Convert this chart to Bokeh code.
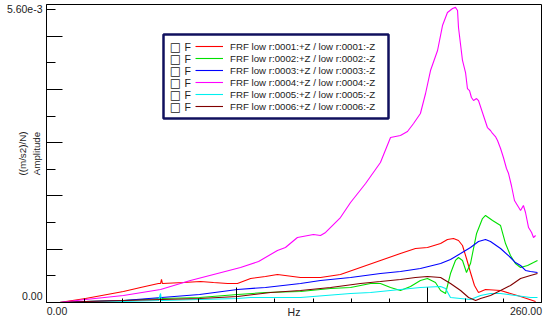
from bokeh.plotting import figure
from bokeh.models import (Range1d, FixedTicker, Legend, LegendItem, Label, BoxAnnotation,
                          LinearAxis, CustomLabelingPolicy)
from bokeh.embed import file_html
from bokeh.resources import INLINE

# ---------------- data (Hz, amplitude in 1e-3 (m/s2)/N) ----------------
labels = [
    "FRF low r:0001:+Z / low r:0001:-Z",
    "FRF low r:0002:+Z / low r:0002:-Z",
    "FRF low r:0003:+Z / low r:0003:-Z",
    "FRF low r:0004:+Z / low r:0004:-Z",
    "FRF low r:0005:+Z / low r:0005:-Z",
    "FRF low r:0006:+Z / low r:0006:-Z",
]
colors = ["#ff0000", "#00e000", "#0000ff", "#ff00ff", "#00f0f0", "#800000"]

hz_1 = [6.8, 20.5, 40.4, 49.4, 58.8, 59.9, 60.4, 60.9, 72.0, 80.9, 87.7, 95.1, 100.3, 107.2, 115.0,
        121.3, 133.4, 143.9, 154.4, 164.9, 175.4, 185.9, 193.8, 200.1, 207.0, 210.6, 213.8, 216.4,
        218.5, 220.6, 222.7, 224.8, 226.9, 230.6, 238.5, 249.0, 256.9]
amp_1 = [0, 0.076, 0.210, 0.287, 0.363, 0.363, 0.440, 0.363, 0.382, 0.401, 0.382, 0.363, 0.363,
         0.459, 0.497, 0.535, 0.478, 0.478, 0.535, 0.669, 0.803, 0.936, 1.032, 1.051, 1.127, 1.204,
         1.223, 1.185, 1.089, 0.841, 0.573, 0.325, 0.191, 0.248, 0.229, 0.115, 0.019]

hz_2 = [6.8, 20.5, 40.4, 60.4, 80.4, 100.3, 115.0, 133.4, 149.2, 159.7, 170.2, 175.4, 180.7, 185.9,
        191.2, 196.4, 200.1, 204.3, 207.0, 209.6, 212.2, 214.8, 216.4, 218.5, 220.6, 222.7, 225.9,
        229.0, 230.6, 234.3, 238.5, 241.1, 243.7, 246.3, 249.0, 252.7, 255.8, 257.9]
amp_2 = [0, 0.019, 0.038, 0.076, 0.096, 0.153, 0.191, 0.210, 0.268, 0.287, 0.363, 0.363, 0.287,
         0.229, 0.306, 0.420, 0.459, 0.382, 0.229, 0.172, 0.554, 0.803, 0.860, 0.803, 0.573, 0.745,
         1.319, 1.605, 1.663, 1.567, 1.471, 1.127, 0.898, 0.745, 0.669, 0.707, 0.764, 0.803]

hz_3 = [6.8, 20.5, 40.4, 60.4, 80.4, 100.3, 115.0, 133.4, 143.9, 159.7, 175.4, 185.9, 196.4, 207.0,
        212.2, 217.5, 222.7, 226.9, 230.6, 233.2, 238.5, 243.7, 246.3, 249.0, 251.6, 254.2, 257.9]
amp_3 = [0, 0.019, 0.038, 0.096, 0.153, 0.248, 0.287, 0.363, 0.420, 0.478, 0.554, 0.592, 0.650,
         0.745, 0.822, 0.936, 1.051, 1.166, 1.204, 1.166, 1.032, 0.860, 0.764, 0.707, 0.612, 0.592,
         0.573]

hz_4 = [6.8, 20.5, 40.4, 59.9, 75.6, 89.8, 101.9, 111.4, 121.3, 125.5, 131.8, 140.2, 143.9, 146.6,
        154.4, 159.7, 167.6, 175.4, 180.7, 185.9, 189.6, 192.8, 196.4, 199.1, 201.7, 205.4, 208.0,
        210.6, 213.3, 214.8, 215.9, 216.4, 218.5, 220.1, 221.1, 222.2, 223.2, 224.3, 225.9, 226.9,
        229.5, 231.6, 233.2, 234.3, 235.8, 236.9, 238.5, 240.0, 241.6, 242.7, 244.2, 245.8, 247.4,
        249.0, 250.5, 251.6, 253.2, 254.8, 255.8, 256.9]
amp_4 = [0, 0.057, 0.134, 0.248, 0.420, 0.554, 0.669, 0.784, 0.994, 1.051, 1.242, 1.299, 1.280,
         1.338, 1.624, 1.911, 2.274, 2.675, 3.153, 3.191, 3.268, 3.421, 3.612, 3.994, 4.433, 4.816,
         5.293, 5.542, 5.618, 5.640, 5.580, 5.255, 4.625, 4.395, 4.089, 4.051, 3.918, 3.860, 3.898,
         3.860, 3.574, 3.344, 3.287, 3.230, 3.172, 3.096, 2.943, 2.771, 2.561, 2.465, 2.236, 1.949,
         1.854, 1.758, 1.854, 1.720, 1.433, 1.338, 1.242, 1.280]

hz_5 = [6.8, 20.5, 40.4, 58.8, 59.9, 60.4, 80.4, 100.3, 107.2, 133.4, 146.6, 159.7, 170.2, 185.9,
        196.4, 207.0, 209.6, 212.2, 217.5, 222.7, 228.0, 233.2, 238.5, 246.3, 254.2, 257.9]
amp_5 = [0, 0, 0.019, 0.038, 0.172, 0.038, 0.057, 0.076, 0.096, 0.096, 0.134, 0.172, 0.191, 0.248,
         0.287, 0.306, 0.268, 0.096, 0.076, 0.057, 0.134, 0.172, 0.172, 0.134, 0.096, 0.096]

hz_6 = [6.8, 20.5, 40.4, 60.4, 80.4, 100.3, 117.7, 133.4, 149.2, 164.9, 175.4, 185.9, 193.8, 200.1,
        207.0, 212.2, 217.5, 221.7, 225.4, 228.0, 233.2, 238.5, 243.7, 249.0, 254.2, 257.9]
amp_6 = [0, 0.019, 0.038, 0.057, 0.076, 0.115, 0.191, 0.229, 0.287, 0.363, 0.401, 0.440, 0.478,
         0.497, 0.478, 0.363, 0.229, 0.096, 0.038, 0.076, 0.134, 0.229, 0.325, 0.459, 0.516, 0.554]

x_tick_labels = ["0.00", "260.00"]
y_tick_labels = ["0.00", "5.60e-3"]
x_title = "Hz"
y_title = "((m/s2)/N)\nAmplitude"

X_MAX = 260.0
Y_LABEL_TOP = 5.6e-3
Y_MAX = 5.695e-3

series = [(hz_1, amp_1), (hz_2, amp_2), (hz_3, amp_3), (hz_4, amp_4), (hz_5, amp_5), (hz_6, amp_6)]

# ---------------- figure ----------------
FONT = "Liberation Sans"
TXT = "#222222"
FRAME_W, FRAME_H = 495, 298

p = figure(width=554, height=322, output_backend="svg", toolbar_location=None,
           x_range=Range1d(0, X_MAX), y_range=Range1d(0, Y_MAX),
           min_border_left=46, min_border_right=13, min_border_top=4, min_border_bottom=20)
p.grid.visible = False
p.outline_line_color = "black"
p.outline_line_width = 1
p.background_fill_color = "white"
p.border_fill_color = "white"

no_labels = CustomLabelingPolicy(code="")


def tick_axis(ax, major, minor, major_len, minor_len):
    ax.ticker = FixedTicker(ticks=major, minor_ticks=minor)
    ax.major_tick_in = major_len
    ax.major_tick_out = 0
    ax.minor_tick_in = minor_len
    ax.minor_tick_out = 0
    ax.major_label_text_font_size = "0px"
    ax.major_label_standoff = 0
    ax.major_label_policy = no_labels
    ax.axis_line_color = "black"
    ax.major_tick_line_color = "black"
    ax.minor_tick_line_color = "black"


# tick-only axes next to the frame
tick_axis(p.xaxis[0], [0, 100, 200], [v for v in range(20, 261, 20) if v not in (100, 200)], 15, 4)
step = Y_LABEL_TOP / 11
tick_axis(p.yaxis[0], [k * step for k in range(0, 12, 2)], [k * step for k in range(1, 12, 2)], 16, 9)


def label_axis(ticks, texts, standoff):
    ax = LinearAxis(ticker=FixedTicker(ticks=ticks, minor_ticks=[]),
                    major_label_overrides={t: s for t, s in zip(ticks, texts)})
    ax.axis_line_color = None
    ax.major_tick_line_color = None
    ax.minor_tick_line_color = None
    ax.major_tick_in = 0
    ax.major_tick_out = 0
    ax.major_label_standoff = standoff
    ax.major_label_text_font = FONT
    ax.major_label_text_font_size = "10.5px"
    ax.major_label_text_color = TXT
    ax.axis_label_text_font = FONT
    ax.axis_label_text_font_style = "normal"
    ax.axis_label_text_color = TXT
    return ax


# x labels: "0.00" starts at the axis origin, "260.00" ends at the axis end
x_lab_ticks = [X_MAX * 10.5 / FRAME_W, X_MAX * (FRAME_W - 15.5) / FRAME_W]
xl = label_axis(x_lab_ticks, x_tick_labels, 4)
xl.axis_label = x_title
xl.axis_label_text_font_size = "10.5px"
xl.axis_label_standoff = -12
p.add_layout(xl, "below")

# y labels: "0.00" sits slightly above the origin
y_lab_ticks = [Y_MAX * 7 / FRAME_H, Y_LABEL_TOP]
yl = label_axis(y_lab_ticks, y_tick_labels, 4)
yl.axis_label = y_title
yl.axis_label_text_font_size = "9.8px"
yl.axis_label_text_line_height = 1.25
yl.axis_label_standoff = -38
p.add_layout(yl, "left")

renderers = []
for (xs, ys), c in zip(series, colors):
    r = p.line(xs, [v * 1e-3 for v in ys], line_color=c, line_width=1.1)
    renderers.append(r)

# ---------------- legend ----------------
FL, FB = 46, 302  # frame left / bottom in canvas px


def lab(text, cx, cy, align="left", size="10.5px", font=FONT, color=TXT):
    p.add_layout(Label(x=cx - FL, y=FB - cy, x_units="screen", y_units="screen", text=text,
                       text_align=align, text_baseline="middle", text_font_size=size,
                       text_font=font, text_color=color))


box = BoxAnnotation(left=163 - FL, right=388 - FL, top=FB - 34, bottom=FB - 118,
                    left_units="screen", right_units="screen", top_units="screen", bottom_units="screen",
                    fill_color="white", fill_alpha=1.0, line_color="#10105e", line_alpha=1.0,
                    line_width=2.5, level="annotation")
p.add_layout(box)

pad = 5
legend = Legend(items=[LegendItem(label=t, renderers=[r]) for t, r in zip(labels, renderers)],
                location=(195 - pad - FL, FB - (40 - pad + 2 * pad + 72)),
                padding=pad, margin=0, spacing=0, glyph_width=28, glyph_height=12, label_height=12,
                label_standoff=7, label_text_font=FONT, label_text_font_size="9.7px",
                label_text_color=TXT, background_fill_alpha=0.0, border_line_alpha=0.0)
p.add_layout(legend)

for i in range(len(labels)):
    cy = 46 + 12 * i
    lab("\u25a1", 175, cy, align="center", size="12px", font="DejaVu Sans", color="#222222")
    lab("F", 184, cy, align="left", size="10.5px")

open("out.html", "w").write(file_html(p, INLINE))
